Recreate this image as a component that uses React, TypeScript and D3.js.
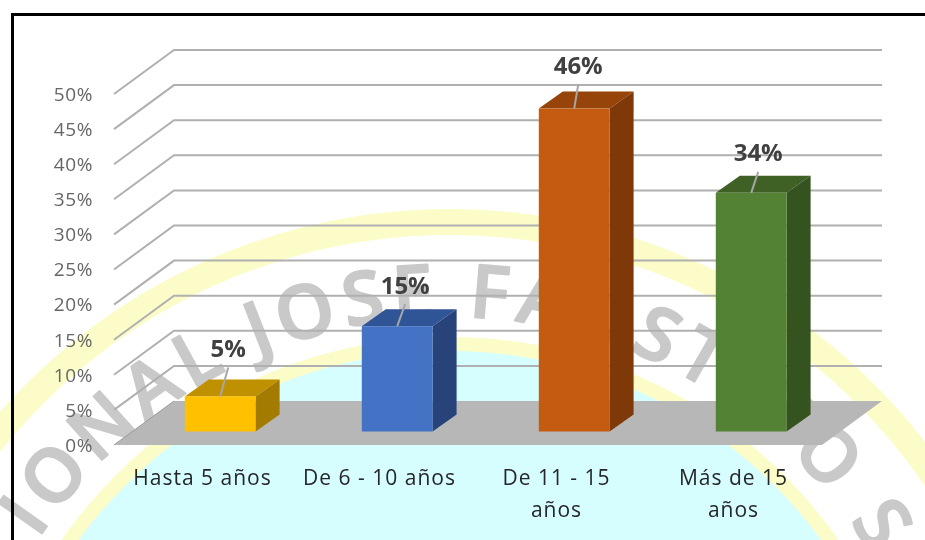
import { line, scaleBand, scaleLinear, select } from "d3";
import React, { useEffect, useRef } from "react";

const categories = ["Hasta 5 años", "De 6 - 10 años", "De 11 - 15\naños", "Más de 15\naños"];
const shares = [5, 15, 46, 34];
const yTicks = [0, 5, 10, 15, 20, 25, 30, 35, 40, 45, 50];
const faceColors = ["#ffc000", "#4472c4", "#c55a11", "#548235"];
const topColors = ["#bf9000", "#2f5597", "#964409", "#3f6126"];
const sideColors = ["#a37b00", "#27437a", "#7f3807", "#35531f"];
const labelLift = [48, 41, 43, 40];
const labelShift = [8, 8, 4, 7];
const watermarkText = "NACIONAL JOSE FAUSTINO SANCHEZ";

const FONT = "'Open Sans', sans-serif";
// depth of the 3D box the chart sits in
const wallDx = 60;
const wallDy = -44;
const barDx = 24;
const barDy = -17;
const barBase = 431.5;

function App() {
  const svgRef = useRef<SVGSVGElement>(null);

  useEffect(() => {
    const svg = select(svgRef.current);
    svg.selectAll("*").remove();

    const x = scaleBand<string>().domain(categories).range([114, 822]);
    const y = scaleLinear().domain([0, 50]).range([445, 94]);
    const barW = x.bandwidth() * 0.4;
    const poly = line();
    const barH = (v: number) => y(0) - y(v);

    // watermark seal behind the chart
    const cx = 450;
    const cy = 810;
    const wm = svg.append("g");
    wm.append("circle").attr("cx", cx).attr("cy", cy).attr("r", 588).attr("fill", "none")
      .attr("stroke", "#fcfcc8").attr("stroke-width", 26);
    wm.append("circle").attr("cx", cx).attr("cy", cy).attr("r", 466).attr("fill", "#d6fdff")
      .attr("stroke", "#fcfcc8").attr("stroke-width", 14);
    const r = 493;
    svg.append("defs").append("path").attr("id", "seal")
      .attr("d", `M${cx - r},${cy} A${r},${r} 0 0 1 ${cx + r},${cy}`);
    wm.append("text")
      .attr("font-family", FONT).attr("font-size", 74).attr("font-weight", 600)
      .attr("fill", "#c9c9c9").attr("stroke", "#c9c9c9").attr("stroke-width", 2)
      .attr("stroke-linejoin", "round").attr("letter-spacing", 7)
      .append("textPath").attr("href", "#seal").attr("startOffset", 112)
      .text(watermarkText);

    svg.append("path").attr("d", "M12.5,540V14.5H925").attr("fill", "none")
      .attr("stroke", "#000").attr("stroke-width", 3);

    // floor
    svg.append("path")
      .attr("d", poly([
        [114, y(0)], [822, y(0)], [822 + wallDx, y(0) + wallDy], [114 + wallDx, y(0) + wallDy],
      ]) + "Z")
      .attr("fill", "#b7b7b7");

    // gridlines, side wall then back wall
    svg.append("g").selectAll("path")
      .data(yTicks.filter((t) => t > 0))
      .join("path")
      .attr("d", (t) => poly([
        [114, y(t)], [114 + wallDx, y(t) + wallDy], [822 + wallDx, y(t) + wallDy],
      ]))
      .attr("fill", "none").attr("stroke", "#b0b0b0").attr("stroke-width", 2);
    svg.append("path")
      .attr("d", poly([[114, y(0)], [114 + wallDx, y(0) + wallDy]]))
      .attr("stroke", "#9a9a9a").attr("stroke-width", 1);

    svg.append("g").selectAll("text")
      .data(yTicks)
      .join("text")
      .attr("x", 93).attr("y", (t) => y(t)).attr("dy", "0.36em")
      .attr("text-anchor", "end")
      .attr("font-family", FONT).attr("font-size", 19).attr("letter-spacing", 0.6).attr("fill", "#666")
      .text((t) => `${t}%`);

    // draw the bars
    const bars = svg.append("g").selectAll("g")
      .data(categories.map((c, i) => ({ c, i, v: shares[i] })))
      .join("g");
    const left = (d) => x(d.c) + barW;
    const top = (d) => barBase - barH(d.v);

    bars.append("path")
      .attr("fill", (d) => topColors[d.i])
      .attr("d", (d) => poly([
        [left(d), top(d)], [left(d) + barW, top(d)],
        [left(d) + barW + barDx, top(d) + barDy], [left(d) + barDx, top(d) + barDy],
      ]) + "Z");
    bars.append("path")
      .attr("fill", (d) => sideColors[d.i])
      .attr("d", (d) => poly([
        [left(d) + barW, top(d)], [left(d) + barW + barDx, top(d) + barDy],
        [left(d) + barW + barDx, barBase + barDy], [left(d) + barW, barBase],
      ]) + "Z");
    bars.append("rect")
      .attr("fill", (d) => faceColors[d.i])
      .attr("x", left).attr("y", top)
      .attr("width", barW).attr("height", (d) => barH(d.v));

    // leader lines and value labels
    bars.append("path")
      .attr("d", (d) => poly([
        [left(d) + barW / 2, top(d)],
        [left(d) + barW / 2 + labelShift[d.i], top(d) - labelLift[d.i] + 19],
      ]))
      .attr("stroke", "#a6a6a6").attr("stroke-width", 2);
    bars.append("text")
      .attr("x", (d) => left(d) + barW / 2 + labelShift[d.i])
      .attr("y", (d) => top(d) - labelLift[d.i])
      .attr("dy", "0.36em").attr("text-anchor", "middle")
      .attr("font-family", FONT).attr("font-size", 24).attr("font-weight", 700)
      .attr("fill", "#404040")
      .text((d) => `${d.v}%`);

    // category labels
    const labels = svg.append("g").selectAll("text")
      .data(categories)
      .join("text")
      .attr("text-anchor", "middle")
      .attr("font-family", FONT).attr("font-size", 21).attr("letter-spacing", 1).attr("fill", "#262626");
    labels.selectAll("tspan")
      .data((c) => c.split("\n").map((t) => ({ t, c })))
      .join("tspan")
      .attr("x", (d) => x(d.c) + x.bandwidth() / 2)
      .attr("y", (d, i) => 485 + i * 32)
      .text((d) => d.t);
  }, []);

  return (
    <svg
      ref={svgRef}
      width={925}
      height={540}
      style={{ position: "fixed", left: 0, top: 0, background: "#fff", filter: "blur(0.4px)" }}
    />
  );
}

export default App;
